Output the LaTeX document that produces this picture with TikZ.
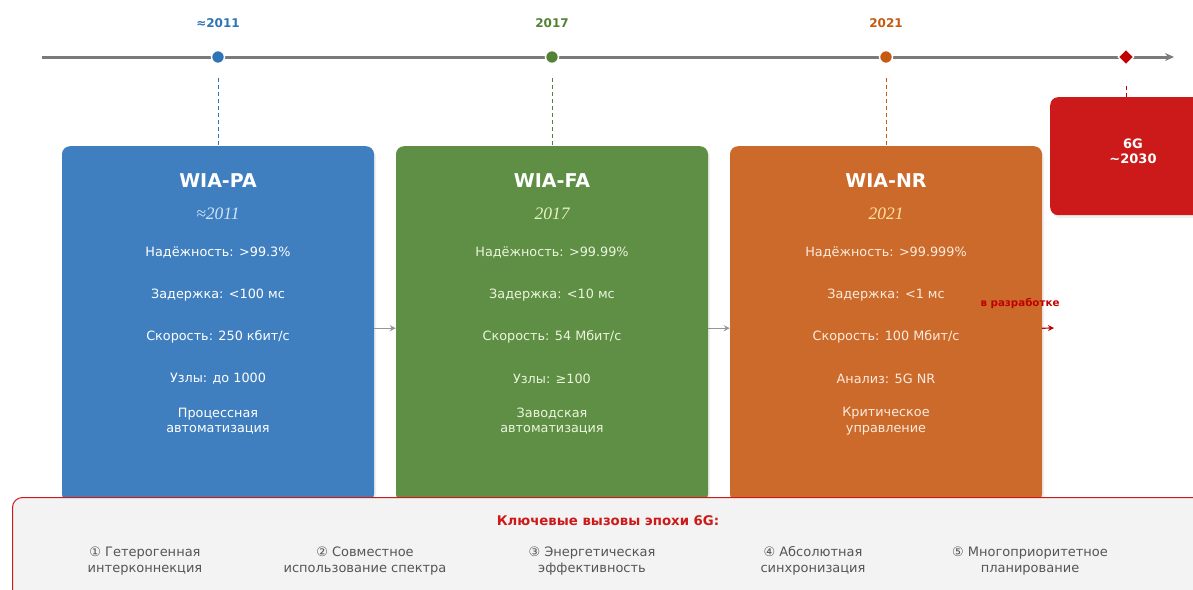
\documentclass[tikz,border=0pt]{standalone}
\usepackage{fontspec}
\setmainfont{DejaVu Sans}
\newfontfamily\yearfont{Liberation Serif}
\usetikzlibrary{arrows.meta,shapes.geometric,shadows}

\definecolor{lineGray}{HTML}{7A7A7A}
\definecolor{paBlue}{HTML}{3F7FC0}
\definecolor{faGreen}{HTML}{5F8E45}
\definecolor{nrOrange}{HTML}{CB6A2B}
\definecolor{sixRed}{HTML}{CC1A1A}
\definecolor{dotBlue}{HTML}{2E75B6}
\definecolor{dotGreen}{HTML}{548235}
\definecolor{dotOrange}{HTML}{C55A11}
\definecolor{dotRed}{HTML}{C00000}
\definecolor{panelFill}{HTML}{F3F3F3}
\definecolor{itemGray}{HTML}{555555}
\definecolor{paYear}{HTML}{D2E3F7}
\definecolor{faYear}{HTML}{E6F2C2}
\definecolor{nrYear}{HTML}{FFE2A6}
\definecolor{faText}{HTML}{EAF6DC}
\definecolor{nrText}{HTML}{FDEBDC}

\newcommand{\fs}[1]{\fontsize{#1pt}{\the\dimexpr #1pt*6/5\relax}\selectfont}

\begin{document}
\begin{tikzpicture}[x=1pt,y=-1pt,
  timeline/.style={draw=lineGray, line width=3pt, -{Stealth[length=9pt,width=8pt]}},
  dot/.style={circle, draw=white, line width=1.5pt, inner sep=0pt, minimum size=13pt},
  gem/.style={diamond, draw=white, line width=1.2pt, inner sep=0pt, minimum size=16pt, fill=dotRed},
  yearlbl/.style={font=\fs{12}\bfseries},
  guide/.style={line width=1pt, dash pattern=on 4pt off 3pt},
  erabox/.style={rounded corners=8pt, minimum width=312pt, minimum height=356pt, anchor=north,
    inner sep=0pt, drop shadow={opacity=0.12, shadow xshift=2pt, shadow yshift=-3pt}},
  titletxt/.style={text=white, font=\fs{19}\bfseries},
  boxyear/.style={font=\yearfont\itshape\fs{17.5}},
  facttxt/.style={font=\fs{12.8}, align=center},
  flow/.style={draw=lineGray!80, line width=1.2pt, -{Stealth[length=6pt,width=6pt]}},
  panel/.style={draw=sixRed, line width=1pt, fill=panelFill, rounded corners=10pt,
    anchor=north west, minimum width=1200pt, minimum height=120pt, inner sep=0pt},
  itemtxt/.style={text=itemGray, font=\fs{13}, align=center}
]
\clip (0,0) rectangle (1193,589);
\fill[white] (0,0) rectangle (1193,589);

% time axis
\coordinate (axisStart) at (42,57);
\coordinate (axisEnd) at (1174,57);
\draw[timeline] (axisStart) -- (axisEnd);

\node[dot, fill=dotBlue]   (m1) at (218,57) {};
\node[dot, fill=dotGreen]  (m2) at (552,57) {};
\node[dot, fill=dotOrange] (m3) at (886,57) {};
\node[gem] (m4) at (1126,57) {};

\node[yearlbl, text=dotBlue]   (y1) at (218,23) {≈2011};
\node[yearlbl, text=dotGreen]  (y2) at (552,23) {2017};
\node[yearlbl, text=dotOrange] (y3) at (886,23) {2021};

% era boxes
\node[erabox, fill=paBlue]   (pa) at (218,146) {};
\node[erabox, fill=faGreen]  (fa) at (552,146) {};
\node[erabox, fill=nrOrange] (nr) at (886,146) {};
\node[rounded corners=8pt, fill=sixRed, minimum width=166pt, minimum height=118pt,
      anchor=north west, inner sep=0pt,
      drop shadow={opacity=0.12, shadow xshift=2pt, shadow yshift=-3pt}] (sg) at (1050,97) {};
\node[text=white, font=\fs{13}\bfseries, align=center] (sgt) at (1133,151) {6G\\[-1pt]\textasciitilde2030};

% guide lines from the axis to the boxes
\draw[guide, dotBlue]   ([yshift=-14pt]m1.south) -- (pa.north);
\draw[guide, dotGreen]  ([yshift=-14pt]m2.south) -- (fa.north);
\draw[guide, dotOrange] ([yshift=-14pt]m3.south) -- (nr.north);
\coordinate (sgTop) at (1126,97);
\draw[guide, dotRed]    ([yshift=-20pt]m4.south) -- (sgTop);

% WIA-PA
\node[titletxt] (pa1) at (218,181) {WIA-PA};
\node[boxyear, text=paYear] (pa2) at (218,214) {≈2011};
\node[facttxt, text=white] (pa3) at (218,253) {Надёжность: >99.3\%};
\node[facttxt, text=white] (pa4) at (218,295) {Задержка: <100 мс};
\node[facttxt, text=white] (pa5) at (218,337) {Скорость: 250 кбит/с};
\node[facttxt, text=white] (pa6) at (218,379) {Узлы: до 1000};
\node[facttxt, text=white] (pa7) at (218,421) {Процессная\\автоматизация};

% WIA-FA
\node[titletxt] (fa1) at (552,181) {WIA-FA};
\node[boxyear, text=faYear] (fa2) at (552,214) {2017};
\node[facttxt, text=faText] (fa3) at (552,253) {Надёжность: >99.99\%};
\node[facttxt, text=faText] (fa4) at (552,295) {Задержка: <10 мс};
\node[facttxt, text=faText] (fa5) at (552,337) {Скорость: 54 Мбит/с};
\node[facttxt, text=faText] (fa6) at (552,379) {Узлы: ≥100};
\node[facttxt, text=faText] (fa7) at (552,421) {Заводская\\автоматизация};

% WIA-NR
\node[titletxt] (nr1) at (886,181) {WIA-NR};
\node[boxyear, text=nrYear] (nr2) at (886,214) {2021};
\node[facttxt, text=nrText] (nr3) at (886,253) {Надёжность: >99.999\%};
\node[facttxt, text=nrText] (nr4) at (886,295) {Задержка: <1 мс};
\node[facttxt, text=nrText] (nr5) at (886,337) {Скорость: 100 Мбит/с};
\node[facttxt, text=nrText] (nr6) at (886,379) {Анализ: 5G NR};
\node[facttxt, text=nrText] (nr7) at (886,421) {Критическое\\управление};

% progression arrows
\draw[flow] ([yshift=-4pt]pa.east) -- ([yshift=-4pt]fa.west);
\draw[flow] ([yshift=-4pt]fa.east) -- ([yshift=-4pt]nr.west);
\coordinate (devEnd) at (1054,328);
\draw[draw=dotRed, line width=1.2pt, -{Stealth[length=6pt,width=6pt]}] ([yshift=-4pt]nr.east) -- (devEnd);
\node[text=dotRed, font=\fs{10.3}\bfseries] (dev) at (1020,303) {в разработке};

% challenges panel
\node[panel] (ch) at (12,497) {};
\node[text=sixRed, font=\fs{13.3}\bfseries] (cht) at (608,521) {Ключевые вызовы эпохи 6G:};
\node[itemtxt] (c1) at (145,561) {① Гетерогенная\\интерконнекция};
\node[itemtxt] (c2) at (365,561) {② Совместное\\использование спектра};
\node[itemtxt] (c3) at (592,561) {③ Энергетическая\\эффективность};
\node[itemtxt] (c4) at (813,561) {④ Абсолютная\\синхронизация};
\node[itemtxt] (c5) at (1030,561) {⑤ Многоприоритетное\\планирование};
\end{tikzpicture}
\end{document}
